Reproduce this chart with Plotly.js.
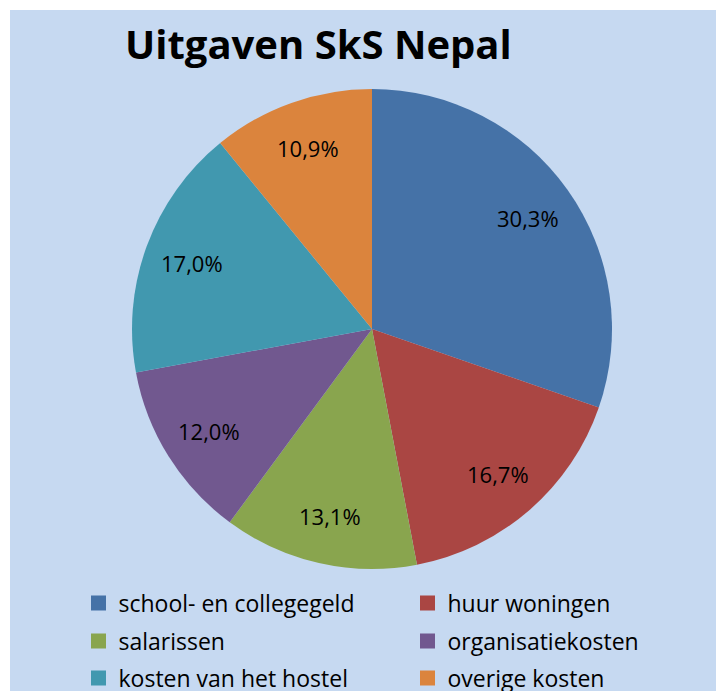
<!DOCTYPE html>
<html>
<head>
<meta charset="utf-8">
<script src="https://cdn.plot.ly/plotly-3.0.1.min.js"></script>
<style>
html, body { margin:0; padding:0; background:#ffffff; width:721px; height:691px; overflow:hidden; }
#chart { position:absolute; left:10px; top:10px; width:706px; height:681px; }
</style>
</head>
<body>
<div id="chart"></div>
<script>
const categories = ["school- en collegegeld", "huur woningen", "salarissen", "organisatiekosten", "kosten van het hostel", "overige kosten"];
const values = [30.3, 16.7, 13.1, 12.0, 17.0, 10.9];
const labelsText = ["30,3%", "16,7%", "13,1%", "12,0%", "17,0%", "10,9%"];
const colors = ["#4572a7", "#aa4643", "#89a54e", "#71588f", "#4198af", "#db843d"];

const W = 706, H = 681;
const cxPx = 362, cyPx = 319, R = 240;
const domX = [(cxPx - R) / W, (cxPx + R) / W];
const domY = [(H - cyPx - R) / H, (H - cyPx + R) / H];

// percentage labels along each slice's mid-angle
const total = values.reduce((a, b) => a + b, 0);
const annotations = [];
let cum = 0;
const labelR = 0.80 * R;
for (let i = 0; i < values.length; i++) {
  const mid = (cum + values[i] / 2) / total * 2 * Math.PI;
  cum += values[i];
  const px = cxPx + labelR * Math.sin(mid);
  const py = cyPx - labelR * Math.cos(mid);
  annotations.push({
    x: px / W, y: 1 - py / H, xref: 'paper', yref: 'paper',
    text: labelsText[i], showarrow: false,
    xanchor: 'center', yanchor: 'middle',
    font: { family: 'Open Sans, sans-serif', size: 22, color: '#000000' }
  });
}

const data = [{
  type: 'pie',
  labels: categories,
  values: values,
  sort: false,
  direction: 'clockwise',
  rotation: 0,
  textinfo: 'none',
  hoverinfo: 'label+percent',
  marker: { colors: colors, line: { width: 0 } },
  domain: { x: domX, y: domY },
  showlegend: false
}];

// legend entries: two per row, three rows
const legendNames = ['legend', 'legend2', 'legend3'];
categories.forEach((c, i) => {
  data.push({
    type: 'scatter', mode: 'markers',
    x: [null], y: [null],
    name: c,
    marker: { symbol: 'square', size: 15, color: colors[i] },
    legend: legendNames[Math.floor(i / 2)],
    showlegend: true, hoverinfo: 'skip'
  });
});

const rowCenters = [593, 631, 668];
function legendCfg(row) {
  return {
    orientation: 'h',
    x: (88.5 - 20) / W, xanchor: 'left',
    y: 1 - rowCenters[row] / H, yanchor: 'middle',
    entrywidth: 284, entrywidthmode: 'pixels',
    font: { family: 'Open Sans, sans-serif', size: 23, color: '#000000' },
    bgcolor: 'rgba(0,0,0,0)',
    itemsizing: 'trace',
    traceorder: 'normal'
  };
}

const layout = {
  width: W, height: H,
  margin: { l: 0, r: 0, t: 0, b: 0, autoexpand: false },
  paper_bgcolor: '#c6d9f1',
  plot_bgcolor: 'rgba(0,0,0,0)',
  xaxis: { visible: false },
  yaxis: { visible: false },
  title: {
    text: '<b>Uitgaven SkS Nepal</b>',
    x: (125 - 10) / W, xanchor: 'left', xref: 'paper',
    y: 1 - (45 - 10) / H, yanchor: 'middle', yref: 'container',
    font: { family: 'Open Sans, sans-serif', size: 40, color: '#000000' }
  },
  legend: legendCfg(0),
  legend2: legendCfg(1),
  legend3: legendCfg(2),
  annotations: annotations
};

Plotly.newPlot('chart', data, layout, { displayModeBar: false, staticPlot: true });
</script>
</body>
</html>
